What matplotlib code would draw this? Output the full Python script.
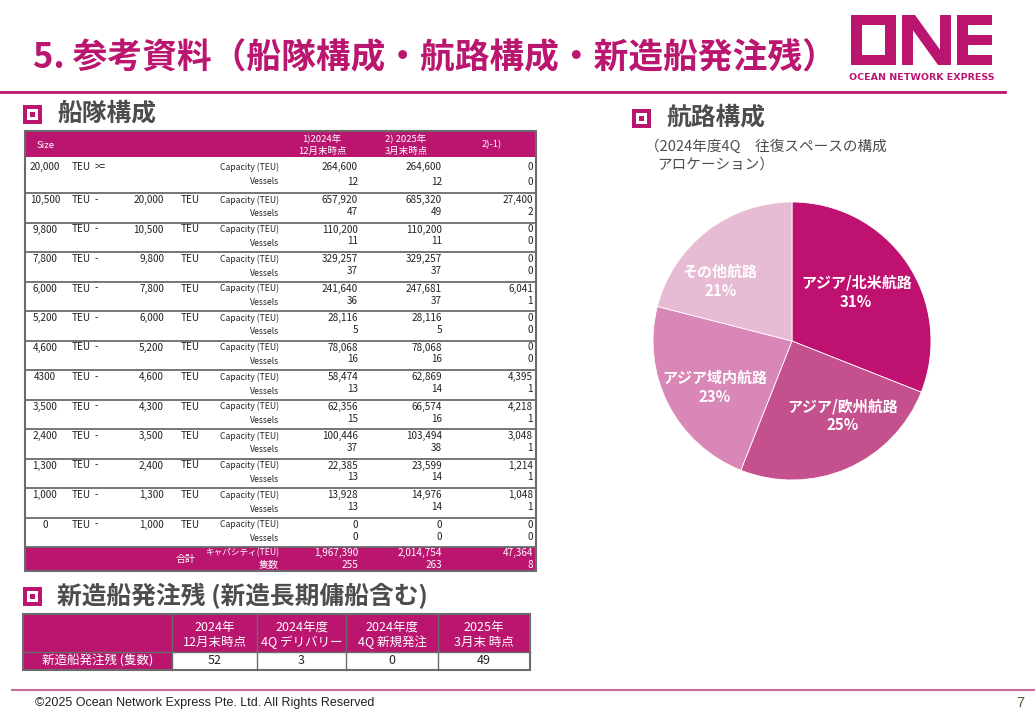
import numpy as np
import matplotlib.pyplot as plt
from matplotlib.patches import Rectangle, Polygon

plt.rcParams['font.family'] = ['Noto Sans CJK JP', 'DejaVu Sans']

# ---- fleet table data ----
size_lo = ['20,000', '10,500', '9,800', '7,800', '6,000', '5,200', '4,600',
           '4300', '3,500', '2,400', '1,300', '1,000', '0']
size_hi = ['', '20,000', '10,500', '9,800', '7,800', '6,000', '5,200',
           '4,600', '4,300', '3,500', '2,400', '1,300', '1,000']
cap_dec = [264600, 657920, 110200, 329257, 241640, 28116, 78068,
           58474, 62356, 100446, 22385, 13928, 0]
cap_mar = [264600, 685320, 110200, 329257, 247681, 28116, 78068,
           62869, 66574, 103494, 23599, 14976, 0]
ves_dec = [12, 47, 11, 37, 36, 5, 16, 13, 15, 37, 13, 13, 0]
ves_mar = [12, 49, 11, 37, 37, 5, 16, 14, 16, 38, 14, 14, 0]

# ---- order backlog table ----
ob_headers = ['2024年\n12月末時点', '2024年度\n4Q デリバリー',
              '2024年度\n4Q 新規発注', '2025年\n3月末 時点']
ob_values = [52, 3, 0, 49]
ob_label = '新造船発注残 (隻数)'

# ---- route pie ----
routes = ['アジア/北米航路', 'アジア/欧州航路', 'アジア域内航路', 'その他航路']
shares = [31, 25, 23, 21]

MAG = '#BA1670'
GRID = '#6b6b6b'
TXT = '#222222'
SEC = '#4d4d4d'
narrow = ['Liberation Sans Narrow', 'Noto Sans CJK JP']

fig = plt.figure(figsize=(10.35, 7.17), dpi=100)
ax = fig.add_axes([0, 0, 1, 1])
ax.set_xlim(0, 1035)
ax.set_ylim(717, 0)
ax.axis('off')

# title + logo
ax.text(33, 58, '5. 参考資料（船隊構成・航路構成・新造船発注残）', fontsize=25,
        fontweight='bold', color=MAG, va='center', ha='left')
ax.add_patch(Rectangle((851, 15), 45, 50, color=MAG, lw=0))
ax.add_patch(Rectangle((862, 25), 23, 30, color='white', lw=0))
ax.add_patch(Rectangle((902, 15), 11, 50, color=MAG, lw=0))
ax.add_patch(Rectangle((940, 15), 11, 50, color=MAG, lw=0))
ax.add_patch(Polygon([(902, 15), (915, 15), (951, 65), (938, 65)], color=MAG, lw=0))
ax.add_patch(Rectangle((957, 15), 11, 50, color=MAG, lw=0))
for yb in (15, 35, 55):
    ax.add_patch(Rectangle((957, yb), 35, 10, color=MAG, lw=0))
ax.text(921.5, 78, 'OCEAN NETWORK EXPRESS', fontsize=6.8, fontweight='bold',
        color=MAG, ha='center', va='center', family='DejaVu Sans')
ax.plot([0, 1005], [92, 92], color=MAG, lw=2)


def section(x, y, label, size=17.8):
    ax.add_patch(Rectangle((x, y - 9.5), 19, 19, color=MAG, lw=0))
    ax.add_patch(Rectangle((x + 4, y - 5.5), 11, 11, color='white', lw=0))
    ax.add_patch(Rectangle((x + 7, y - 2.5), 5, 5, color=MAG, lw=0))
    ax.text(x + 34, y, label, fontsize=size, fontweight='bold', color=SEC,
            va='center', ha='left')


section(23, 114, '船隊構成')
section(632, 118, '航路構成')
section(23, 596, '新造船発注残 (新造長期傭船含む)')

# ---- fleet table ----
x0, x1 = 25, 536
ax.add_patch(Rectangle((x0, 131), x1 - x0, 26, color=MAG, lw=0))
hfs = 6.8
ax.text(37, 145, 'Size', color='white', fontsize=hfs, va='center', family=narrow)
for cx, l1, l2 in [(322, '1)2024年', '12月末時点'), (406, '2) 2025年', '3月末時点')]:
    ax.text(cx, 138, l1, color='white', fontsize=hfs, ha='center', va='center', family=narrow)
    ax.text(cx, 151, l2, color='white', fontsize=hfs, ha='center', va='center', family=narrow)
ax.text(492, 145, '2)-1)', color='white', fontsize=hfs, ha='center', va='center', family=narrow)

fs = 7.2
lfs = 6.2
tops = [157, 193] + [193 + 29.5 * i for i in range(1, 12)]
for i, t in enumerate(tops):
    if i == 0:
        yc, yv, yl = t + 10, t + 25, t + 25
    else:
        yc, yv, yl = t + 7, t + 19, t + 21
    ax.text(45, yc, size_lo[i], fontsize=fs, ha='center', va='center', color=TXT, family=narrow)
    ax.text(72, yc, 'TEU', fontsize=fs, ha='left', va='center', color=TXT, family=narrow)
    sep = '>=' if size_hi[i] == '' else '-'
    ax.text(95, yc, sep, fontsize=fs, ha='left', va='center', color=TXT, family=narrow)
    if size_hi[i]:
        ax.text(164, yc, size_hi[i], fontsize=fs, ha='right', va='center', color=TXT, family=narrow)
        ax.text(181, yc, 'TEU', fontsize=fs, ha='left', va='center', color=TXT, family=narrow)
    ax.text(279, yc, 'Capacity (TEU)', fontsize=lfs, ha='right', va='center', color=TXT, family=narrow)
    ax.text(279, yl, 'Vessels', fontsize=lfs, ha='right', va='center', color=TXT, family=narrow)
    for xr, cv, vv in [(358, cap_dec[i], ves_dec[i]), (442, cap_mar[i], ves_mar[i]),
                       (533, cap_mar[i] - cap_dec[i], ves_mar[i] - ves_dec[i])]:
        ax.text(xr, yc, f'{cv:,}', fontsize=fs, ha='right', va='center', color=TXT, family=narrow)
        ax.text(xr, yv, f'{vv:,}', fontsize=fs, ha='right', va='center', color=TXT, family=narrow)
    if i > 0:
        ax.plot([x0, x1], [t, t], color=GRID, lw=1.3)

# total row
ax.add_patch(Rectangle((x0, 547), x1 - x0, 24, color=MAG, lw=0))
ax.plot([x0, x1], [547, 547], color=GRID, lw=1.3)
ax.text(186, 559, '合計', fontsize=fs, ha='center', va='center', color='white', family=narrow)
ax.text(279, 553, 'キャパシティ(TEU)', fontsize=lfs, ha='right', va='center', color='white', family=narrow)
ax.text(279, 565, '隻数', fontsize=fs, ha='right', va='center', color='white', family=narrow)
tot_cap = [sum(cap_dec), sum(cap_mar), sum(cap_mar) - sum(cap_dec)]
tot_ves = [sum(ves_dec), sum(ves_mar), sum(ves_mar) - sum(ves_dec)]
for xr, cv, vv in zip([358, 442, 533], tot_cap, tot_ves):
    ax.text(xr, 553, f'{cv:,}', fontsize=fs, ha='right', va='center', color='white', family=narrow)
    ax.text(xr, 565, f'{vv:,}', fontsize=fs, ha='right', va='center', color='white', family=narrow)
ax.add_patch(Rectangle((x0, 131), x1 - x0, 440, fill=False, ec=GRID, lw=1.5))

# ---- order backlog table ----
edges = [23, 172, 257, 346, 438, 530]
ax.add_patch(Rectangle((edges[0], 614), edges[-1] - edges[0], 38, color=MAG, lw=0))
ax.add_patch(Rectangle((edges[0], 652), edges[1] - edges[0], 18, color=MAG, lw=0))
ax.text((edges[0] + edges[1]) / 2, 661, ob_label, fontsize=9, color='white',
        ha='center', va='center')
for j, (hdr, v) in enumerate(zip(ob_headers, ob_values)):
    cx = (edges[j + 1] + edges[j + 2]) / 2
    l1, l2 = hdr.split('\n')
    ax.text(cx, 627, l1, fontsize=9, color='white', ha='center', va='center')
    ax.text(cx, 642, l2, fontsize=9, color='white', ha='center', va='center')
    ax.text(cx, 661, str(v), fontsize=9, color=TXT, ha='center', va='center')
for xe in edges[1:-1]:
    ax.plot([xe, xe], [614, 670], color=GRID, lw=1)
ax.plot([edges[0], edges[-1]], [652, 652], color=GRID, lw=1)
ax.add_patch(Rectangle((edges[0], 614), edges[-1] - edges[0], 56, fill=False, ec=GRID, lw=1.5))

# ---- route section ----
ax.text(645, 147, '（2024年度4Q　往復スペースの構成', fontsize=10.5, color=SEC,
        ha='left', va='center')
ax.text(657, 165, 'アロケーション）', fontsize=10.5, color=SEC, ha='left', va='center')

cx_p, cy_p, r_p = 792, 341, 139
pax = fig.add_axes([(cx_p - r_p) / 1035, 1 - (cy_p + r_p) / 717,
                    2 * r_p / 1035, 2 * r_p / 717])
pie_colors = ['#BE1170', '#C4508E', '#D887B6', '#E7BBD4']
wedges, _ = pax.pie(shares, colors=pie_colors, startangle=90, counterclock=False,
                    wedgeprops=dict(edgecolor='white', linewidth=0.6))
pax.set_xlim(-1, 1)
pax.set_ylim(-1, 1)
lab_r = [0.58, 0.65, 0.65, 0.67]
lab_da = [3, 10.5, 4, 12.5]
for w, name, s, r, da in zip(wedges, routes, shares, lab_r, lab_da):
    ang = np.deg2rad((w.theta1 + w.theta2) / 2 + da)
    pax.text(r * np.cos(ang), r * np.sin(ang), f'{name}\n{s}%', color='white',
             fontsize=10.8, fontweight='bold', ha='center', va='center',
             linespacing=1.2, clip_on=False)

# ---- footer ----
ax.plot([12, 1035], [690, 690], color='#C86AA0', lw=1.5)
ax.text(35, 703, '©2025 Ocean Network Express Pte. Ltd. All Rights Reserved',
        fontsize=9, color=TXT, ha='left', va='center', family='Liberation Sans')
ax.text(1020, 703, '7', fontsize=10.5, color='#555533', ha='center', va='center',
        family='Liberation Sans')

fig.savefig('out.png', dpi=100)
